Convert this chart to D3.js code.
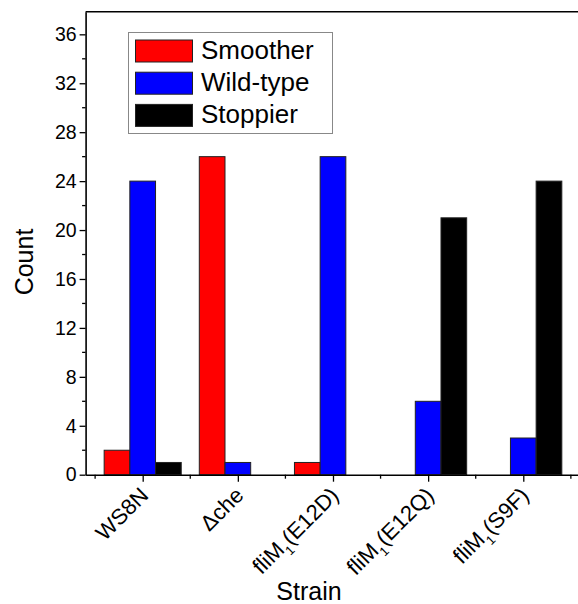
<!DOCTYPE html>
<html>
<head>
<meta charset="utf-8">
<script src="https://cdn.jsdelivr.net/npm/d3@7"></script>
<style>
  html, body { margin: 0; padding: 0; background: #fff; }
  svg { display: block; font-family: "Liberation Sans", Arial, sans-serif; }
</style>
</head>
<body>
<svg id="chart" width="578" height="604"></svg>
<script>
// ---- data ----
const categories = ["WS8N", "Δche", "fliM1(E12D)", "fliM1(E12Q)", "fliM1(S9F)"];
const seriesNames = ["Smoother", "Wild-type", "Stoppier"];
const smoother = [2, 26, 1, 0, 0];
const wildType = [24, 1, 26, 6, 3];
const stoppier = [1, 0, 0, 21, 24];
const yTicks = [0, 4, 8, 12, 16, 20, 24, 28, 32, 36];
const colors = ["#ff0000", "#0000ff", "#000000"];

const seriesValues = [smoother, wildType, stoppier];

const svg = d3.select("#chart");
const pLeft = 85.6, pTop = 11.7, pBottom = 474.7;

const x = d3.scaleLinear().domain([0.4, 5.6]).range([pLeft, pLeft + 5.2 * 95.15]);
const y = d3.scaleLinear().domain([0, 37.85]).range([pBottom, pTop]);
const barW = 0.27;

// bars
seriesValues.forEach((vals, s) => {
  svg.append("g").selectAll("rect")
    .data(vals)
    .join("rect")
    .attr("x", (d, i) => x(i + 1 + (s - 1) * barW - barW / 2))
    .attr("width", (d, i) => x(i + 1 + barW / 2) - x(i + 1 - barW / 2))
    .attr("y", d => y(d))
    .attr("height", d => y(0) - y(d))
    .attr("fill", colors[s])
    .attr("stroke", d => d > 0 ? "#222" : "none")
    .attr("stroke-width", 1);
});

// frame top line
svg.append("line")
  .attr("x1", pLeft).attr("x2", 578).attr("y1", pTop).attr("y2", pTop)
  .attr("stroke", "#000").attr("stroke-width", 1.6);

// y axis
const yAxis = d3.axisLeft(y).tickValues(yTicks).tickSize(6).tickPadding(3).tickSizeOuter(0);
const gy = svg.append("g").attr("transform", `translate(${pLeft},0)`).call(yAxis);
gy.select(".domain").attr("stroke-width", 1.6);
gy.selectAll(".tick line").attr("stroke-width", 1.3);
gy.selectAll(".tick text").attr("font-size", 19.5).attr("fill", "#000")
  .attr("font-family", "Liberation Sans, Arial, sans-serif");
// y minor ticks
const yMinor = d3.range(2, 38, 4);
svg.append("g").selectAll("line").data(yMinor).join("line")
  .attr("x1", pLeft - 3.5).attr("x2", pLeft)
  .attr("y1", d => y(d)).attr("y2", d => y(d))
  .attr("stroke", "#000").attr("stroke-width", 1.3);

// x axis
const xAxis = d3.axisBottom(x).tickValues([1, 2, 3, 4, 5]).tickSize(7).tickFormat("").tickSizeOuter(0);
const gx = svg.append("g").attr("transform", `translate(0,${pBottom})`).call(xAxis);
gx.select(".domain").attr("stroke-width", 1.6);
gx.selectAll(".tick line").attr("stroke-width", 1.3);
const xMinor = [0.5, 1.5, 2.5, 3.5, 4.5, 5.5];
svg.append("g").selectAll("line").data(xMinor).join("line")
  .attr("x1", d => x(d)).attr("x2", d => x(d))
  .attr("y1", pBottom).attr("y2", pBottom + 4)
  .attr("stroke", "#000").attr("stroke-width", 1.3);

// x tick labels rotated
const labG = svg.append("g");
categories.forEach((c, i) => {
  const t = labG.append("text")
    .attr("transform", `translate(${x(i + 1) + 7},${pBottom + 22}) rotate(-45)`)
    .attr("text-anchor", "end")
    .attr("font-size", 22)
    .attr("fill", "#000");
  const m = c.match(/^fliM1(.*)$/);
  if (m) {
    t.append("tspan").text("fliM");
    t.append("tspan").attr("font-size", 13).attr("dy", 7).text("1");
    t.append("tspan").attr("dy", -7).text(m[1]);
  } else {
    t.text(c);
  }
});

// axis titles
svg.append("text")
  .attr("transform", `translate(33,262) rotate(-90)`)
  .attr("text-anchor", "middle")
  .attr("font-size", 25)
  .text("Count");
svg.append("text")
  .attr("x", 309).attr("y", 600)
  .attr("text-anchor", "middle")
  .attr("font-size", 25)
  .text("Strain");

// legend
const lg = svg.append("g");
lg.append("rect")
  .attr("x", 128.5).attr("y", 32.5).attr("width", 204).attr("height", 101)
  .attr("fill", "#fff").attr("stroke", "#888").attr("stroke-width", 1);
seriesNames.forEach((n, i) => {
  const yy = 40 + i * 32.2;
  lg.append("rect")
    .attr("x", 135.5).attr("y", yy).attr("width", 57).attr("height", 22)
    .attr("fill", colors[i]).attr("stroke", "#222").attr("stroke-width", 1);
  lg.append("text")
    .attr("x", 201).attr("y", yy + 19)
    .attr("font-size", 26)
    .text(n);
});
</script>
</body>
</html>
